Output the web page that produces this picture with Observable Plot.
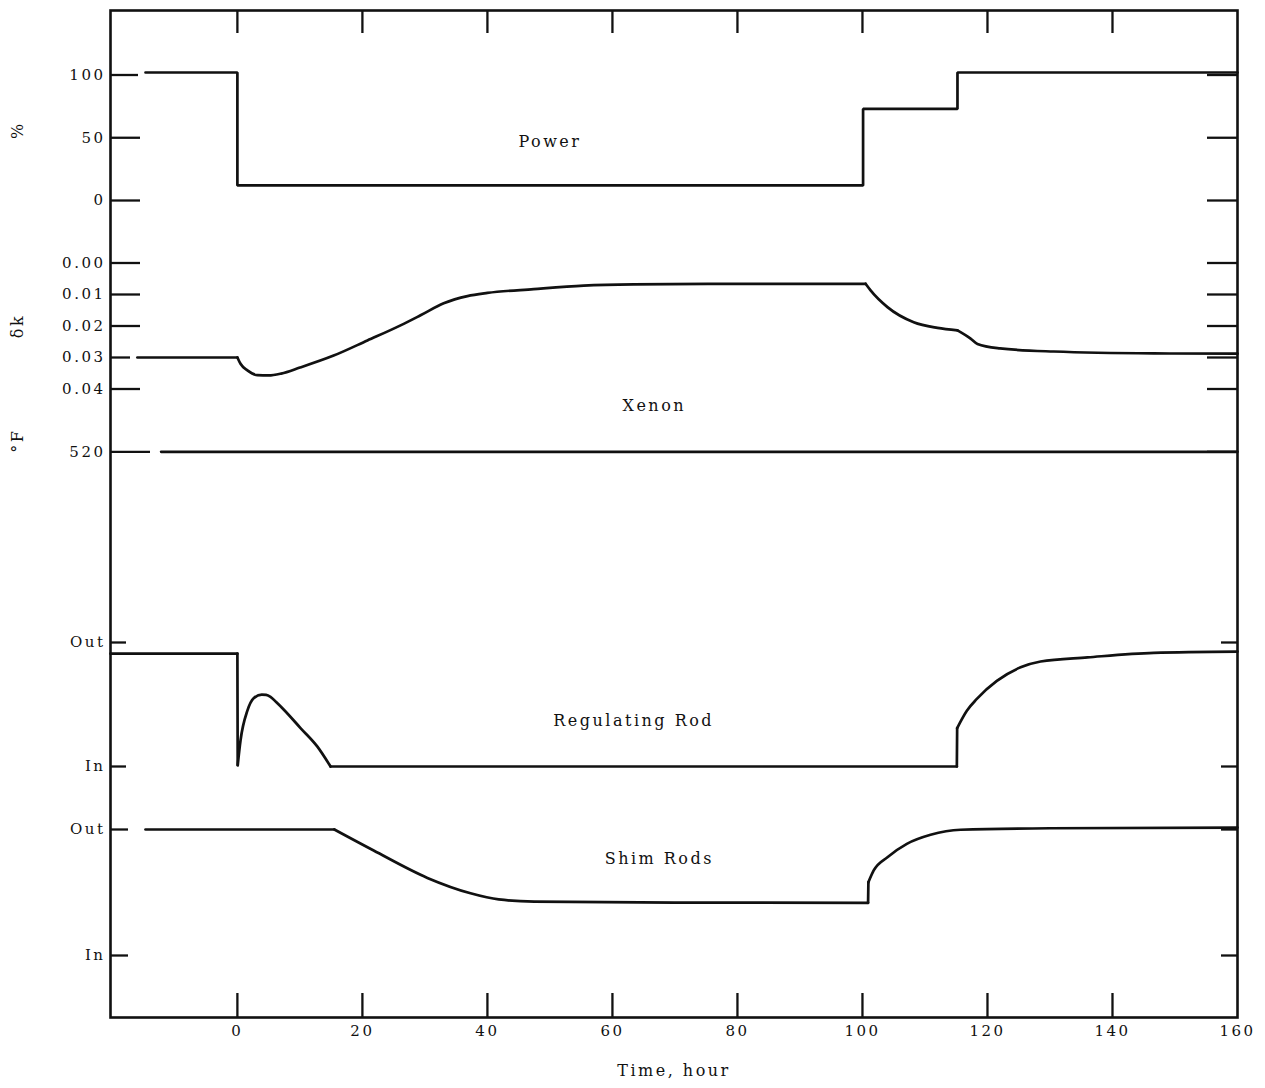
<!DOCTYPE html>
<html>
<head>
<meta charset="utf-8">
<script src="https://cdn.jsdelivr.net/npm/d3@7"></script>
<script src="https://cdn.jsdelivr.net/npm/@observablehq/plot@0.6"></script>
<style>
  html, body { margin: 0; padding: 0; background: #fff; }
  #chart { width: 1265px; height: 1088px; }
</style>
</head>
<body>
<div id="chart"></div>
<script>
// ---------------- data ----------------
const xTickValues = [0, 20, 40, 60, 80, 100, 120, 140, 160];

// Power, %
const powerTime = [-14.7, 0, 100.1, 115.2, 160];
const powerPct  = [102, 12, 73, 102, 102];

// Xenon reactivity, δk
const xenonTime = [-16, 0, 0.5, 1.6, 3.2, 5, 7, 10, 15.4, 20.8, 26.1, 29.3, 33, 36.8, 40, 47.4, 55.4, 63.4, 80, 100.5, 101.3, 104, 108.2, 112, 115.2, 117.3, 118.4, 122, 130.6, 146.6, 160];
const xenonDk   = [0.030, 0.030, 0.0320, 0.0341, 0.0356, 0.0357, 0.0351, 0.0332, 0.0294, 0.0246, 0.0198, 0.0166, 0.0128, 0.0105, 0.0095, 0.0083, 0.0072, 0.0068, 0.0066, 0.0066, 0.0087, 0.0140, 0.0188, 0.0206, 0.0214, 0.0240, 0.0257, 0.0271, 0.0281, 0.0287, 0.0288];
const xenonKinks = [0, 100.5, 115.2];

// Temperature, °F
const tempTime = [-12.2, 160];
const tempF    = [520, 520];

// Regulating rod position (0 = In, 1 = Out)
const regTime = [-20.3, 0, 0.05, 0.5, 1.6, 2.6, 3.9, 4.6, 5.3, 6.2, 7.4, 10.1, 12.8, 14.9, 115.1, 115.15, 116.7, 118.3, 121.5, 125.3, 128.5, 136, 146.6, 160];
const regPos  = [0.91, 0.91, 0.01, 0.21, 0.45, 0.55, 0.58, 0.578, 0.562, 0.52, 0.46, 0.31, 0.16, 0, 0, 0.31, 0.45, 0.545, 0.69, 0.80, 0.847, 0.88, 0.917, 0.927];
const regKinks = [0, 0.05, 14.9, 115.1, 115.15];

// Shim rods position (0 = In, 1 = Out)
const shimTime = [-14.7, 15.5, 21.8, 30.4, 37.3, 41.8, 47.5, 70, 100.9, 100.95, 101.8, 104, 107.1, 110.9, 115.7, 130, 160];
const shimPos  = [1.0, 1.0, 0.833, 0.616, 0.494, 0.445, 0.428, 0.42, 0.418, 0.582, 0.675, 0.78, 0.886, 0.958, 0.998, 1.01, 1.015];
const shimKinks = [15.5, 100.9, 100.95];

// Tick labels of each band
const powerTicks = [0, 50, 100];
const xenonTicks = [0.00, 0.01, 0.02, 0.03, 0.04];
const tempTicks  = [520];
const rodTicks   = [["In", 0], ["Out", 1]];

// Band labels
const seriesLabels = ["Power", "Xenon", "Regulating Rod", "Shim Rods"];
const unitLabels = ["%", "δk", "°F"];

// ---------------- layout ----------------
const width = 1265, height = 1088;
const marginLeft = 110, marginRight = 28, marginTop = 10, marginBottom = 71;
const xDomain = [-20.3, 160];
const trackH = height - marginTop - marginBottom; // vertical track units == px
const hPerPx = (xDomain[1] - xDomain[0]) / (width - marginLeft - marginRight);

// each band maps its own values onto the shared vertical track
const powerY = d3.scaleLinear().domain([0, 100]).range([190, 64.5]);
const dkY    = d3.scaleLinear().domain([0, 0.04]).range([252.5, 378.5]);
const tempY  = d3.scaleLinear().domain([500, 520]).range([481.3, 441.3]);
const regY   = d3.scaleLinear().domain([0, 1]).range([756, 632]);
const shimY  = d3.scaleLinear().domain([0, 1]).range([945, 819]);

// split a series into smooth pieces at its kinks (kink point shared by both pieces)
function series(ts, vs, f, kinks = []) {
  const out = [];
  let seg = 0;
  ts.forEach((t, i) => {
    out.push({t, y: f(vs[i]), seg});
    if (kinks.includes(t) && i > 0 && i < ts.length - 1) {
      seg++;
      out.push({t, y: f(vs[i]), seg});
    }
  });
  return out;
}
const power = series(powerTime, powerPct, powerY);
const xenon = series(xenonTime, xenonDk, dkY, xenonKinks);
const temp  = series(tempTime, tempF, tempY);
const reg   = series(regTime, regPos, regY, regKinks);
const shim  = series(shimTime, shimPos, shimY, shimKinks);

// y ticks: value on track, label, inner tick length (px) left/right
const yTicks = [
  ...powerTicks.map(v => ({y: powerY(v), label: String(v), left: v === 100 ? 28 : 30, right: 30})),
  ...xenonTicks.map(v => ({y: dkY(v), label: v.toFixed(2), left: v === 0.03 ? 20 : 30, right: 30})),
  ...tempTicks.map(v => ({y: tempY(v), label: String(v), left: 40, right: 30})),
  ...rodTicks.map(([l, v]) => ({y: regY(v), label: l, left: 16, right: 16})),
  ...rodTicks.map(([l, v]) => ({y: shimY(v), label: l, left: 18, right: 16}))
];
const labelByY = new Map(yTicks.map(d => [d.y, d.label]));
const innerX = xTickValues.filter(v => v < xDomain[1]);

const labelPos = [
  {text: seriesLabels[0], t: 50,   y: powerY(47)},
  {text: seriesLabels[1], t: 66.7, y: dkY(0.0452)},
  {text: seriesLabels[2], t: 63.4, y: regY(0.37)},
  {text: seriesLabels[3], t: 67.5, y: shimY(0.77)}
];
const unitPos = [
  {text: unitLabels[0], y: powerY(56)},
  {text: unitLabels[1], y: dkY(0.02)},
  {text: unitLabels[2], y: tempY(525.5)}
];

const lineW = 2.7, tickW = 2.3;
const ink = "#111";

const chart = Plot.plot({
  width, height, marginLeft, marginRight, marginTop, marginBottom,
  x: {domain: xDomain},
  y: {domain: [trackH, 0]},
  style: {fontFamily: "'DejaVu Serif', serif", fontSize: "15px", letterSpacing: "2.5px", background: "#fff", color: ink},
  marks: [
    Plot.axisX({ticks: xTickValues, tickSize: 0, tickPadding: 8, label: null, tickFormat: d => String(d)}),
    Plot.axisY({ticks: yTicks.map(d => d.y), tickSize: 0, tickPadding: 5, label: null, tickFormat: d => labelByY.get(d)}),
    Plot.frame({strokeWidth: 2.6, stroke: ink}),
    // inner ticks on top and bottom edges
    Plot.ruleX(innerX, {x: d => d, y1: 0, y2: 23, strokeWidth: tickW, stroke: ink}),
    Plot.ruleX(innerX, {x: d => d, y1: trackH - 24, y2: trackH, strokeWidth: tickW, stroke: ink}),
    // inner ticks on left and right edges
    Plot.ruleY(yTicks, {y: "y", x1: xDomain[0], x2: d => xDomain[0] + d.left * hPerPx, strokeWidth: tickW, stroke: ink}),
    Plot.ruleY(yTicks, {y: "y", x1: d => xDomain[1] - d.right * hPerPx, x2: xDomain[1], strokeWidth: tickW, stroke: ink}),
    // series
    Plot.line(power, {x: "t", y: "y", curve: "step-after", strokeWidth: lineW, strokeLinejoin: "miter", stroke: ink}),
    Plot.line(xenon, {x: "t", y: "y", z: "seg", curve: "monotone-x", strokeWidth: lineW, stroke: ink}),
    Plot.line(temp,  {x: "t", y: "y", strokeWidth: lineW, stroke: ink}),
    Plot.line(reg,   {x: "t", y: "y", z: "seg", curve: "monotone-x", strokeWidth: lineW, stroke: ink}),
    Plot.line(shim,  {x: "t", y: "y", z: "seg", curve: "monotone-x", strokeWidth: lineW, stroke: ink}),
    // labels
    Plot.text(labelPos, {x: "t", y: "y", text: "text", fontSize: 16, fill: ink}),
    Plot.text(unitPos, {x: xDomain[0], y: "y", text: "text", dx: -93, rotate: -90, fontSize: 16, fill: ink}),
    Plot.text(["Time, hour"], {text: d => d, frameAnchor: "bottom", dy: 58, fontSize: 16, fill: ink})
  ]
});
document.getElementById("chart").appendChild(chart);
</script>
</body>
</html>
